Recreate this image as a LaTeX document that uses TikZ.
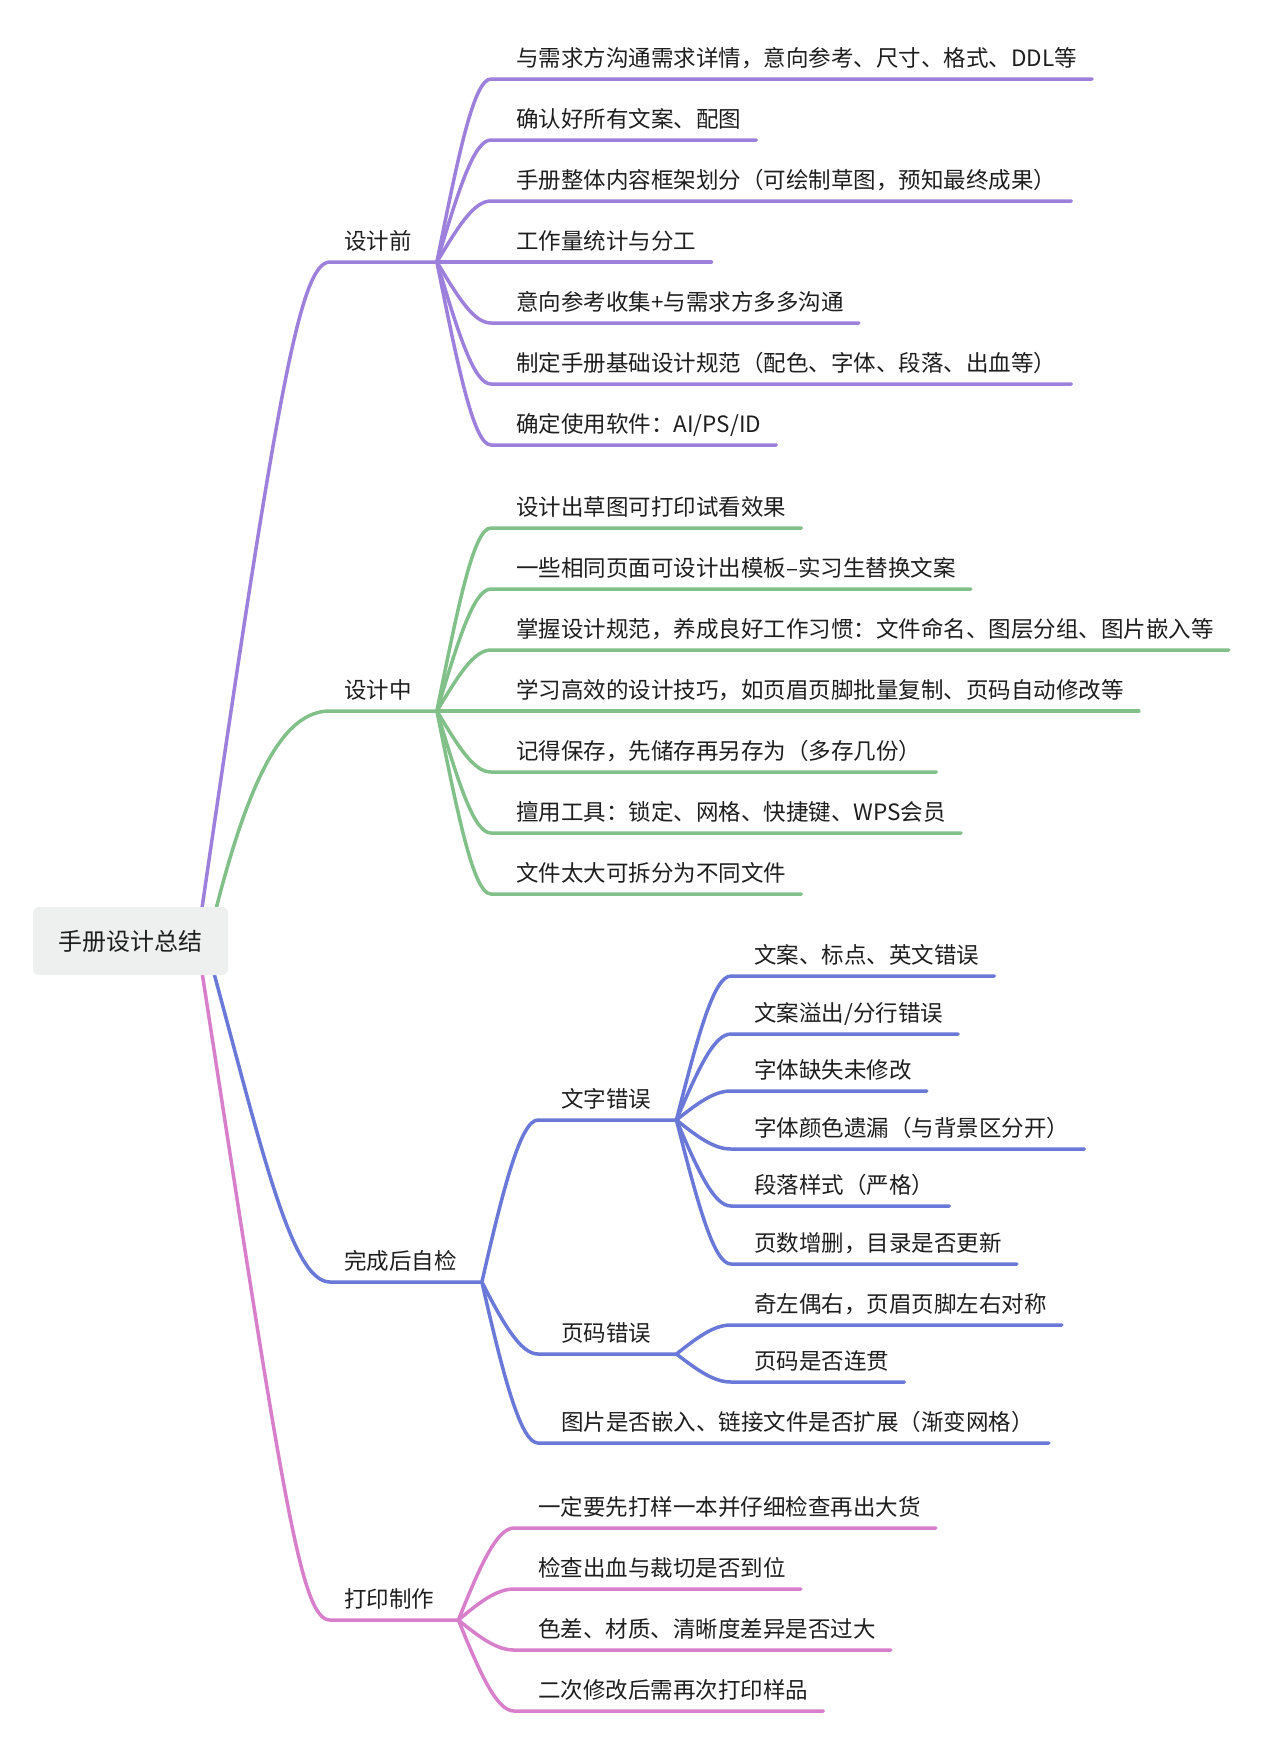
\documentclass[tikz,border=0pt]{standalone}
\usepackage{fontspec}
\setmainfont{Noto Sans CJK SC}
\usepackage{tikz}
\usetikzlibrary{calc,backgrounds}
\definecolor{mmpurple}{RGB}{157,128,220}
\definecolor{mmgreen}{RGB}{130,192,138}
\definecolor{mmblue}{RGB}{106,120,216}
\definecolor{mmpink}{RGB}{215,127,203}
\definecolor{rootgray}{RGB}{238,240,239}
\definecolor{mmtext}{RGB}{30,30,30}
\tikzset{
  leaf/.style={anchor=south west,inner xsep=0pt,inner ysep=12.5pt,text depth=0pt,
    font=\fontsize{22.5}{27}\selectfont,text=mmtext},
  link/.style={line width=3.5pt,line cap=round,line join=round},
}

\begin{document}
\begin{tikzpicture}[x=1pt,y=-1pt]
\useasboundingbox (0,0) rectangle (1280,1762);
% root
\node[fill=rootgray,rounded corners=6pt,minimum width=195pt,minimum height=68pt,
  font=\fontsize{24}{28}\selectfont,text=mmtext] (root) at (130.5,941) {手册设计总结};

% main branches
\node[leaf] (pre) at (344,262) {设计前};
\node[leaf] (mid) at (344,711) {设计中};
\node[leaf] (chk) at (344,1282) {完成后自检};
\node[leaf] (prt) at (344,1620) {打印制作};
\coordinate (prehub) at ([xshift=25pt]pre.south east);
\coordinate (midhub) at ([xshift=25pt]mid.south east);
\coordinate (chkhub) at ([xshift=25pt]chk.south east);
\coordinate (prthub) at ([xshift=24pt]prt.south east);

\begin{scope}[on background layer]
\draw[link,mmpurple] ([xshift=-31pt]root.east) .. controls +(80,-550) and +(-30,0) .. ([xshift=-14pt]pre.south west) -- (prehub);
\draw[link,mmgreen] ([xshift=-20pt]root.east) .. controls +(40,-170) and +(-45,0) .. ([xshift=-14pt]mid.south west) -- (midhub);
\draw[link,mmblue] ([xshift=-23pt]root.east) .. controls +(55,200) and +(-40,0) .. ([xshift=-14pt]chk.south west) -- (chkhub);
\draw[link,mmpink] ([xshift=-31pt]root.east) .. controls +(85,550) and +(-30,0) .. ([xshift=-14pt]prt.south west) -- (prthub);
\end{scope}

% before design
\foreach \txt/\y [count=\i] in {
  {与需求方沟通需求详情，意向参考、尺寸、格式、DDL等}/79,
  {确认好所有文案、配图}/140,
  {手册整体内容框架划分（可绘制草图，预知最终成果）}/201,
  {工作量统计与分工}/262,
  {意向参考收集+与需求方多多沟通}/323,
  {制定手册基础设计规范（配色、字体、段落、出血等）}/384,
  {确定使用软件：AI/PS/ID}/445}{
  \node[leaf] (pre\i) at (516,\y) {\txt};
  \draw[link,mmpurple] (prehub) .. controls +(22,{0.6*(\y-262)}) and +(-17,0) .. ([xshift=-25pt]pre\i.south west) -- ([xshift=15pt]pre\i.south east);
}

% during design
\foreach \txt/\y [count=\i] in {
  {设计出草图可打印试看效果}/528,
  {一些相同页面可设计出模板–实习生替换文案}/589,
  {掌握设计规范，养成良好工作习惯：文件命名、图层分组、图片嵌入等}/650,
  {学习高效的设计技巧，如页眉页脚批量复制、页码自动修改等}/711,
  {记得保存，先储存再另存为（多存几份）}/772,
  {擅用工具：锁定、网格、快捷键、WPS会员}/833,
  {文件太大可拆分为不同文件}/894}{
  \node[leaf] (mid\i) at (516,\y) {\txt};
  \draw[link,mmgreen] (midhub) .. controls +(22,{0.6*(\y-711)}) and +(-17,0) .. ([xshift=-25pt]mid\i.south west) -- ([xshift=15pt]mid\i.south east);
}

% self check
\node[leaf] (txt) at (561,1120) {文字错误};
\node[leaf] (pgn) at (561,1354) {页码错误};
\node[leaf] (img) at (561,1443) {图片是否嵌入、链接文件是否扩展（渐变网格）};
\coordinate (txthub) at ([xshift=25pt]txt.south east);
\coordinate (pgnhub) at ([xshift=25pt]pgn.south east);
\draw[link,mmblue] (chkhub) .. controls +(22,-97) and +(-17,0) .. ([xshift=-23pt]txt.south west) -- (txthub);
\draw[link,mmblue] (chkhub) .. controls +(22,43) and +(-17,0) .. ([xshift=-23pt]pgn.south west) -- (pgnhub);
\draw[link,mmblue] (chkhub) .. controls +(22,97) and +(-17,0) .. ([xshift=-23pt]img.south west) -- ([xshift=15pt]img.south east);

\foreach \txt/\y [count=\i] in {
  {文案、标点、英文错误}/976,
  {文案溢出/分行错误}/1034,
  {字体缺失未修改}/1091,
  {字体颜色遗漏（与背景区分开）}/1149,
  {段落样式（严格）}/1206,
  {页数增删，目录是否更新}/1264}{
  \node[leaf] (txt\i) at (754,\y) {\txt};
  \draw[link,mmblue] (txthub) .. controls +(22,{0.6*(\y-1120)}) and +(-17,0) .. ([xshift=-23pt]txt\i.south west) -- ([xshift=15pt]txt\i.south east);
}
\foreach \txt/\y [count=\i] in {
  {奇左偶右，页眉页脚左右对称}/1325,
  {页码是否连贯}/1382}{
  \node[leaf] (pgn\i) at (754,\y) {\txt};
  \draw[link,mmblue] (pgnhub) .. controls +(22,{0.6*(\y-1354)}) and +(-17,0) .. ([xshift=-23pt]pgn\i.south west) -- ([xshift=15pt]pgn\i.south east);
}

% printing
\foreach \txt/\y [count=\i] in {
  {一定要先打样一本并仔细检查再出大货}/1528,
  {检查出血与裁切是否到位}/1589,
  {色差、材质、清晰度差异是否过大}/1650,
  {二次修改后需再次打印样品}/1711}{
  \node[leaf] (prt\i) at (538,\y) {\txt};
  \draw[link,mmpink] (prthub) .. controls +(22,{0.6*(\y-1620)}) and +(-17,0) .. ([xshift=-24pt]prt\i.south west) -- ([xshift=15pt]prt\i.south east);
}
\end{tikzpicture}
\end{document}
